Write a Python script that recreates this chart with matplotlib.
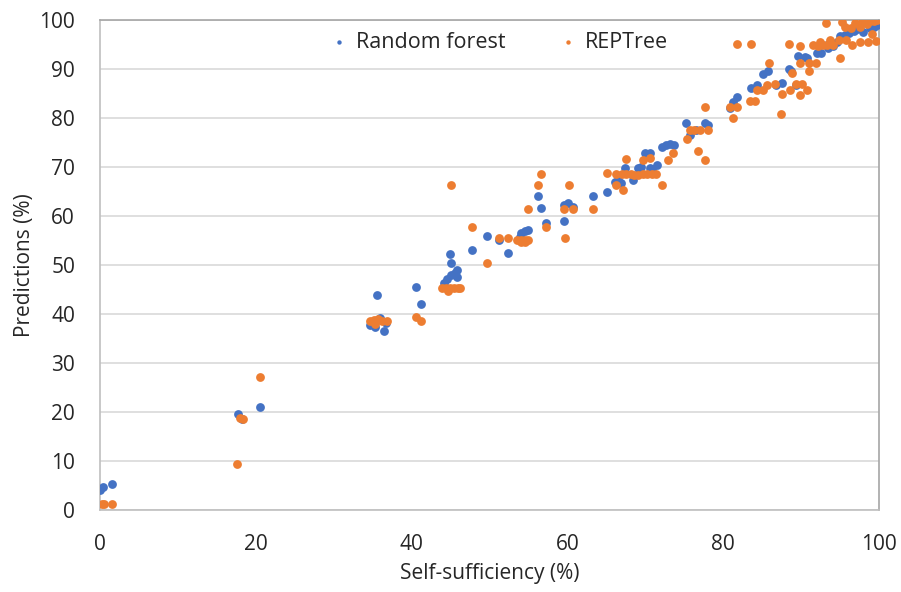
import matplotlib
matplotlib.use("Agg")
import matplotlib.pyplot as plt

# Random forest predictions (x = self-sufficiency %, y = predicted %)
rf_x = [0.0, 0.35, 1.5,
        17.7, 18.2, 20.5,
        35.6, 34.7, 35.3, 36.4, 36.7, 35.9,
        40.6, 41.2,
        44.1, 44.5, 45.1, 45.6, 45.8, 45.8, 44.9, 45.0,
        47.7, 49.7, 51.2, 52.4,
        54.1, 54.6, 55.0, 53.9,
        56.2, 56.6, 57.3,
        59.5, 59.6, 60.1, 60.7,
        63.3, 65.1,
        66.1, 66.5, 66.9, 67.4, 68.4, 69.1, 69.5, 69.9, 70.6, 70.6, 71.5, 70.8,
        72.1, 72.7, 73.2, 73.7,
        75.2, 75.7, 77.7, 78.1, 76.5,
        80.9, 81.3, 81.8,
        83.6, 84.3, 85.1, 85.8, 86.8, 87.5,
        88.5, 88.7, 89.4, 89.6, 90.5, 90.8,
        92.0, 92.6, 93.3, 93.5, 94.1,
        95.0, 95.6, 96.2, 96.8, 97.2, 98.0, 98.8, 99.3, 99.8, 94.6]
rf_y = [4.0, 4.6, 5.3,
        19.5, 18.5, 21.0,
        43.8, 37.8, 37.4, 36.6, 38.1, 39.2,
        45.6, 42.1,
        46.3, 47.1, 48.0, 48.3, 49.0, 47.5, 52.2, 50.5,
        53.0, 55.9, 55.1, 52.5,
        56.5, 57.0, 57.1, 55.8,
        64.0, 61.7, 58.6,
        59.0, 62.2, 62.7, 61.9,
        64.1, 65.0,
        67.0, 67.3, 66.7, 69.7, 67.3, 69.7, 70.0, 72.9, 72.9, 69.7, 70.4, 69.5,
        74.1, 74.5, 74.6, 74.5,
        79.0, 76.5, 78.9, 78.6, 77.5,
        82.0, 83.3, 84.3,
        86.1, 86.7, 89.0, 89.5, 86.7, 87.1,
        89.9, 89.5, 86.7, 92.7, 92.5, 92.2,
        93.2, 93.3, 95.0, 94.2, 94.6,
        96.8, 97.0, 97.3, 97.8, 98.2, 97.6, 98.3, 98.6, 98.9, 95.5]

# REPTree predictions
rep_x = [0.2, 0.5, 1.5,
         17.6, 18.0, 18.3, 20.5,
         34.7, 35.2, 35.7, 36.2, 36.8, 35.3,
         40.6, 41.2,
         43.9, 44.4, 44.9, 45.4, 45.9, 46.2, 44.7,
         45.0, 47.7, 49.7, 51.2, 52.4,
         53.5, 54.0, 54.5, 55.0, 54.5, 54.0,
         55.0, 56.2, 56.6, 57.3,
         59.5, 59.7, 60.2, 60.7,
         63.3, 65.1,
         66.3, 67.0, 67.5, 68.1, 68.6, 69.1, 69.7, 70.2, 70.8, 71.4,
         66.3, 67.1, 67.5, 69.7, 70.6, 72.1,
         72.9, 73.6,
         75.3, 75.7, 76.3, 77.0, 78.1, 76.7, 77.7, 77.7,
         81.2, 80.9, 81.8, 81.8, 83.6,
         83.4, 84.1, 84.3, 85.1, 85.9, 85.6, 86.6,
         87.5, 87.4,
         88.5, 89.8, 88.8, 89.4, 90.1, 88.6, 89.9, 90.7,
         89.9, 91.0, 91.0, 91.9,
         92.2, 92.8, 91.5, 92.4, 93.3, 94.1, 93.7,
         93.2, 95.2, 96.9, 95.0, 95.6,
         96.5, 97.5, 98.6, 99.6,
         97.8, 98.4, 98.9, 99.4, 99.8, 97.6, 96.4, 94.8, 99.1, 95.8]
rep_y = [1.2, 1.2, 1.2,
         9.3, 18.7, 18.5, 27.2,
         38.6, 38.8, 38.9, 38.6, 38.5, 38.0,
         39.3, 38.6,
         45.4, 45.3, 45.4, 45.3, 45.4, 45.4, 44.6,
         66.3, 57.7, 50.5, 55.6, 55.6,
         55.1, 55.1, 55.1, 55.1, 54.6, 54.6,
         61.4, 66.3, 68.6, 57.7,
         61.4, 55.6, 66.3, 61.4,
         61.4, 68.7,
         68.5, 68.6, 68.6, 68.6, 68.4, 68.4, 68.6, 68.6, 68.6, 68.6,
         66.3, 65.4, 71.6, 71.4, 71.8, 66.3,
         71.4, 72.9,
         75.8, 77.6, 77.6, 77.6, 77.6, 73.3, 71.4, 82.2,
         79.9, 82.2, 82.2, 95.2, 95.2,
         83.5, 83.5, 85.8, 85.8, 91.2, 86.8, 87.0,
         84.9, 80.8,
         95.2, 94.6, 89.2, 87.0, 87.0, 85.8, 84.7, 85.8,
         91.2, 91.2, 89.5, 91.2,
         94.7, 94.9, 94.9, 95.6, 94.9, 94.9, 96.0,
         99.4, 99.6, 99.4, 92.3, 98.5,
         94.8, 95.5, 95.6, 95.8,
         99.6, 99.2, 99.7, 99.8, 100.0, 98.6, 98.4, 96.0, 97.2, 95.9]

plt.rcParams['font.family'] = ['Open Sans', 'DejaVu Sans']

fig = plt.figure(figsize=(9.01, 5.92), dpi=100, facecolor='white')
ax = fig.add_axes([0.111, 0.1385, 0.8646, 0.8277])

ax.scatter(rf_x, rf_y, s=40, color='#4472C4', linewidths=0, label='Random forest', zorder=3)
ax.scatter(rep_x, rep_y, s=40, color='#ED7D31', linewidths=0, label='REPTree', zorder=4)

ax.set_xlim(0, 100)
ax.set_ylim(0, 100)
ax.set_xticks(range(0, 101, 20))
ax.set_yticks(range(0, 101, 10))
ax.yaxis.grid(True, color='#d9d9d9', linewidth=1.2, zorder=0)
ax.set_axisbelow(True)
ax.tick_params(axis='y', length=0, labelsize=15, colors='#262626', pad=18)
ax.tick_params(axis='x', length=0, labelsize=15, colors='#262626', pad=17)
for sp in ax.spines.values():
    sp.set_color('#bfbfbf')
    sp.set_linewidth(1.2)
ax.spines['top'].set_color('#a6a6a6')
ax.spines['right'].set_color('#a6a6a6')

ax.set_xlabel('Self-sufficiency (%)', fontsize=15, color='#262626', labelpad=6)
ax.set_ylabel('Predictions (%)', fontsize=15, color='#262626', labelpad=3)

leg = fig.legend(loc='center', bbox_to_anchor=(0.553, 0.929), ncol=2, frameon=False,
                 fontsize=15.5, markerscale=0.5, handletextpad=0.3, columnspacing=2.4,
                 handlelength=1.0)
for t in leg.get_texts():
    t.set_color('#262626')

fig.savefig('out.png', dpi=100, facecolor='white')
